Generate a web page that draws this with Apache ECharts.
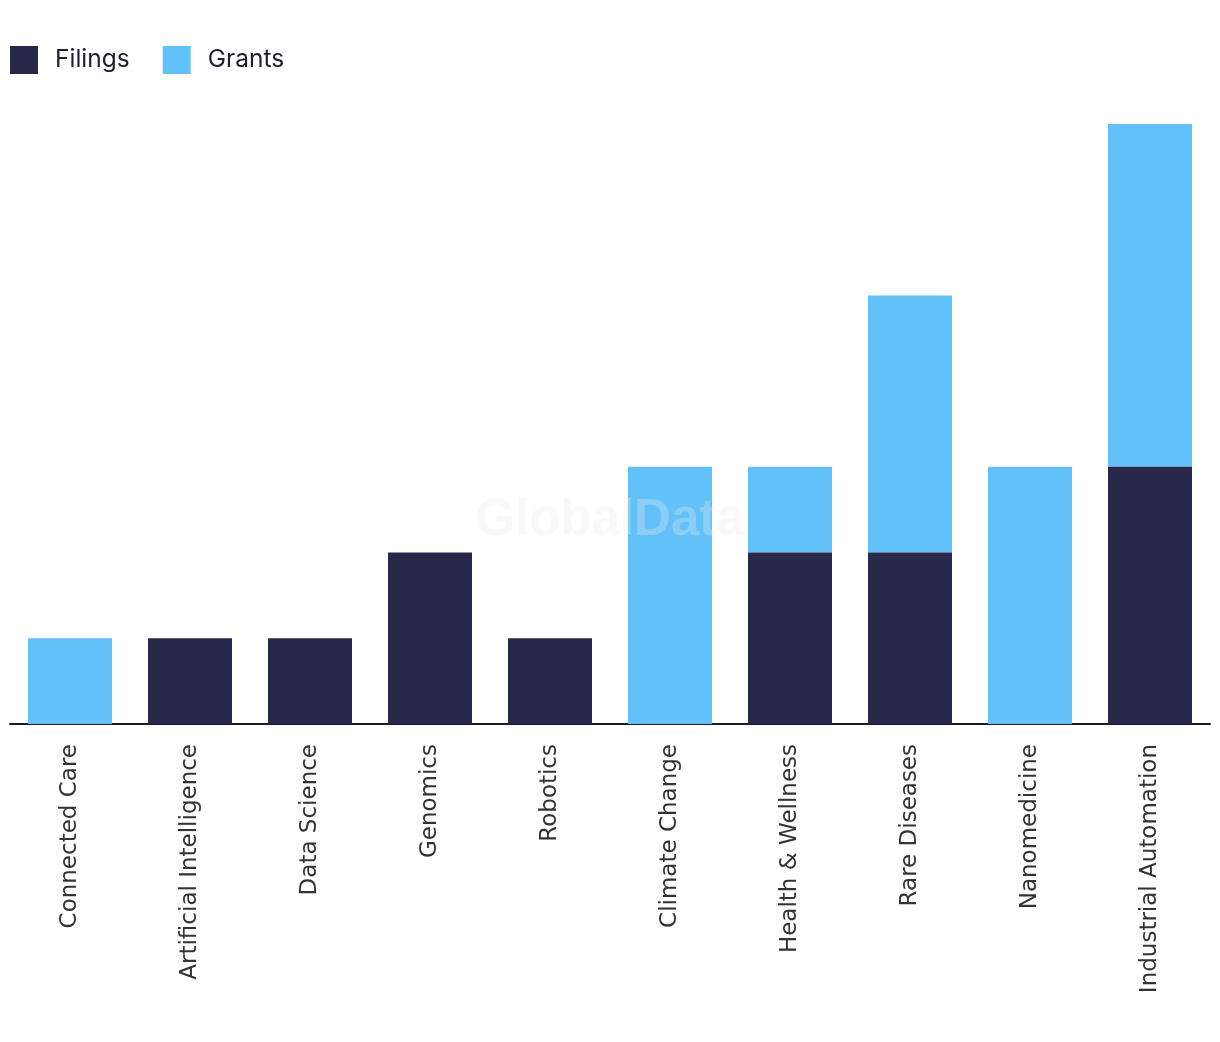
<!DOCTYPE html>
<html>
<head>
<meta charset="utf-8">
<script src="https://cdn.jsdelivr.net/npm/echarts@6/dist/echarts.min.js"></script>
<style>html,body{margin:0;padding:0;background:#fff}#c{width:1220px;height:1042px}</style>
</head>
<body>
<div id="c"></div>
<script>
const categories = ["Connected Care","Artificial Intelligence","Data Science","Genomics","Robotics","Climate Change","Health & Wellness","Rare Diseases","Nanomedicine","Industrial Automation"];
const filings = [0,1,1,2,1,0,2,2,0,3];
const grants = [1,0,0,0,0,3,1,3,3,4];
const seriesNames = ["Filings","Grants"];
const colors = ["#28284b","#62c1f9"];

const chart = echarts.init(document.getElementById('c'));
chart.setOption({
  animation:false,
  color: colors,
  legend:{
    left:5, top:41, itemWidth:28, itemHeight:28, itemGap:33, icon:'rect',
    textStyle:{fontFamily:'Inter', fontSize:24.5, color:'#1e1e32', padding:[0,0,0,12]},
    data: seriesNames
  },
  graphic:[{type:'text', left:'center', top:495, z:100, silent:true,
    style:{text:'GlobalData', font:'bold 51px "Liberation Sans"', fill:'rgba(235,235,235,0.3)'}}],
  grid:{left:10, right:10, top:124, bottom:318, containLabel:false},
  xAxis:{type:'category', data:categories,
    axisLine:{lineStyle:{color:'#1a1a2e', width:2}},
    axisTick:{show:false},
    axisLabel:{rotate:90, margin:20, fontFamily:'DejaVu Sans', fontSize:23, color:'#333', interval:0}
  },
  yAxis:{type:'value', min:0, max:7, show:false, splitLine:{show:false}},
  series:[
    {name:'Filings', type:'bar', stack:'a', data:filings, barWidth:'70%', z:3},
    {name:'Grants', type:'bar', stack:'a', data:grants, barWidth:'70%', z:1}
  ]
});
</script>
</body>
</html>
